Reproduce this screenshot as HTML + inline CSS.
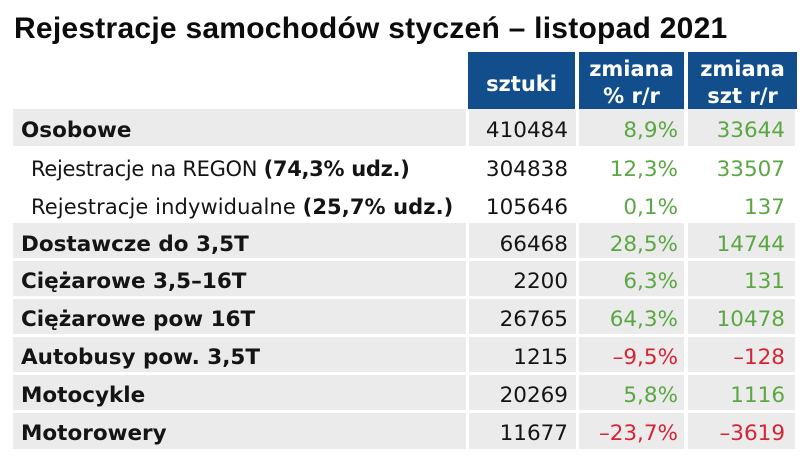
<!DOCTYPE html>
<html><head><meta charset="utf-8"><style>
html,body{margin:0;padding:0;background:#fff;}
body{width:809px;height:468px;position:relative;overflow:hidden;font-family:"DejaVu Sans","Liberation Sans",sans-serif;color:#141414;}
.a{position:absolute;white-space:nowrap;}
.t{font-family:"Liberation Sans",sans-serif;font-weight:bold;font-size:30px;line-height:30px;left:14px;top:14px;letter-spacing:0.25px;color:#0c0c0c;}
.hb{position:absolute;background:#124e8c;top:52px;height:57px;}
.ht{position:absolute;color:#fff;font-weight:bold;font-size:21px;line-height:21px;text-align:center;white-space:nowrap;}
.g{position:absolute;background:#ebebeb;}
.lb{position:absolute;left:21px;font-weight:bold;font-size:21.5px;line-height:21.5px;white-space:nowrap;}
.ls{position:absolute;left:31px;font-size:21px;line-height:21px;white-space:nowrap;}
.ls b{font-weight:bold;}
.n{position:absolute;font-size:21.5px;line-height:21.5px;text-align:right;white-space:nowrap;}
.c1{left:460px;width:108px;}
.c2{left:575px;width:103px;color:#5ba744;}
.c3{left:682px;width:103px;color:#5ba744;}
.r{color:#d42535 !important;}
</style></head><body>
<div class="a t">Rejestracje samochodów styczeń – listopad 2021</div>

<div class="hb" style="left:468px;width:107px;"></div>
<div class="hb" style="left:579px;width:105px;"></div>
<div class="hb" style="left:688px;width:109px;"></div>
<div class="ht" style="left:468px;width:107px;top:74px;">sztuki</div>
<div class="ht" style="left:579px;width:105px;top:58.5px;">zmiana</div>
<div class="ht" style="left:579px;width:105px;top:86px;">% r/r</div>
<div class="ht" style="left:688px;width:109px;top:58.5px;">zmiana</div>
<div class="ht" style="left:688px;width:109px;top:86px;">szt r/r</div>

<!-- gray bands -->
<div class="g" style="left:13px;width:453px;top:109px;height:37px;"></div>
<div class="g" style="left:469px;width:107px;top:109px;height:37px;"></div>
<div class="g" style="left:579px;width:105px;top:109px;height:37px;"></div>
<div class="g" style="left:688px;width:107px;top:109px;height:37px;"></div>

<div class="g" style="left:13px;width:453px;top:223px;height:35px;"></div>
<div class="g" style="left:469px;width:107px;top:223px;height:35px;"></div>
<div class="g" style="left:579px;width:105px;top:223px;height:35px;"></div>
<div class="g" style="left:688px;width:107px;top:223px;height:35px;"></div>

<div class="g" style="left:13px;width:453px;top:261px;height:35px;"></div>
<div class="g" style="left:469px;width:107px;top:261px;height:35px;"></div>
<div class="g" style="left:579px;width:105px;top:261px;height:35px;"></div>
<div class="g" style="left:688px;width:107px;top:261px;height:35px;"></div>

<div class="g" style="left:13px;width:453px;top:299px;height:35px;"></div>
<div class="g" style="left:469px;width:107px;top:299px;height:35px;"></div>
<div class="g" style="left:579px;width:105px;top:299px;height:35px;"></div>
<div class="g" style="left:688px;width:107px;top:299px;height:35px;"></div>

<div class="g" style="left:13px;width:453px;top:337px;height:35px;"></div>
<div class="g" style="left:469px;width:107px;top:337px;height:35px;"></div>
<div class="g" style="left:579px;width:105px;top:337px;height:35px;"></div>
<div class="g" style="left:688px;width:107px;top:337px;height:35px;"></div>

<div class="g" style="left:13px;width:453px;top:375px;height:35px;"></div>
<div class="g" style="left:469px;width:107px;top:375px;height:35px;"></div>
<div class="g" style="left:579px;width:105px;top:375px;height:35px;"></div>
<div class="g" style="left:688px;width:107px;top:375px;height:35px;"></div>

<div class="g" style="left:13px;width:453px;top:413px;height:36px;"></div>
<div class="g" style="left:469px;width:107px;top:413px;height:36px;"></div>
<div class="g" style="left:579px;width:105px;top:413px;height:36px;"></div>
<div class="g" style="left:688px;width:107px;top:413px;height:36px;"></div>

<!-- Osobowe -->
<div class="lb" style="top:120px;">Osobowe</div>
<div class="n c1" style="top:120px;">410484</div>
<div class="n c2" style="top:120px;">8,9%</div>
<div class="n c3" style="top:120px;">33644</div>

<!-- REGON -->
<div class="ls" style="top:159px;letter-spacing:-0.3px;">Rejestracje na REGON <b>(74,3% udz.)</b></div>
<div class="n c1" style="top:159px;">304838</div>
<div class="n c2" style="top:159px;">12,3%</div>
<div class="n c3" style="top:159px;">33507</div>

<!-- Indywidualne -->
<div class="ls" style="top:197px;letter-spacing:0.1px;">Rejestracje indywidualne <b>(25,7% udz.)</b></div>
<div class="n c1" style="top:197px;">105646</div>
<div class="n c2" style="top:197px;">0,1%</div>
<div class="n c3" style="top:197px;">137</div>

<!-- Dostawcze -->
<div class="lb" style="top:233.5px;">Dostawcze do 3,5T</div>
<div class="n c1" style="top:233.5px;">66468</div>
<div class="n c2" style="top:233.5px;">28,5%</div>
<div class="n c3" style="top:233.5px;">14744</div>

<!-- Ciezarowe 3,5-16 -->
<div class="lb" style="top:271px;">Ciężarowe 3,5–16T</div>
<div class="n c1" style="top:271px;">2200</div>
<div class="n c2" style="top:271px;">6,3%</div>
<div class="n c3" style="top:271px;">131</div>

<!-- Ciezarowe pow 16 -->
<div class="lb" style="top:309px;">Ciężarowe pow 16T</div>
<div class="n c1" style="top:309px;">26765</div>
<div class="n c2" style="top:309px;">64,3%</div>
<div class="n c3" style="top:309px;">10478</div>

<!-- Autobusy -->
<div class="lb" style="top:347px;">Autobusy pow. 3,5T</div>
<div class="n c1" style="top:347px;">1215</div>
<div class="n c2 r" style="top:347px;">–9,5%</div>
<div class="n c3 r" style="top:347px;">–128</div>

<!-- Motocykle -->
<div class="lb" style="top:385px;">Motocykle</div>
<div class="n c1" style="top:385px;">20269</div>
<div class="n c2" style="top:385px;">5,8%</div>
<div class="n c3" style="top:385px;">1116</div>

<!-- Motorowery -->
<div class="lb" style="top:422.5px;">Motorowery</div>
<div class="n c1" style="top:422.5px;">11677</div>
<div class="n c2 r" style="top:422.5px;">–23,7%</div>
<div class="n c3 r" style="top:422.5px;">–3619</div>
</body></html>
